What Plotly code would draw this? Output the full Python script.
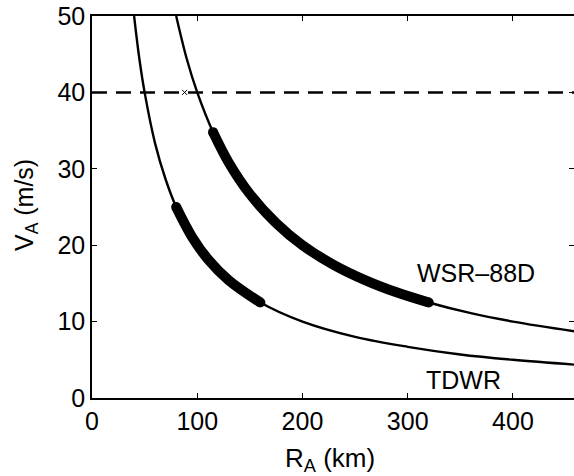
import plotly.graph_objects as go

# Values
wsr_r = [80, 90, 100, 115, 130, 150, 175, 200, 230, 260, 290, 320, 360, 400, 460]
wsr_v = [50, 44.4, 40, 34.8, 30.8, 26.7, 22.9, 20, 17.4, 15.4, 13.8, 12.5, 11.1, 10, 8.7]
wsr_thick_r = [115, 130, 150, 175, 200, 230, 260, 290, 320]
wsr_thick_v = [34.8, 30.8, 26.7, 22.9, 20, 17.4, 15.4, 13.8, 12.5]

tdwr_r = [40, 45, 50, 60, 70, 80, 95, 110, 130, 160, 200, 250, 300, 350, 400, 460]
tdwr_v = [50, 44.4, 40, 33.3, 28.6, 25, 21.1, 18.2, 15.4, 12.5, 10, 8, 6.7, 5.7, 5, 4.35]
tdwr_thick_r = [80, 95, 110, 130, 160]
tdwr_thick_v = [25, 21.1, 18.2, 15.4, 12.5]

va_limit = 40
marker_r = [88]
marker_v = [40]

x_ticks = [0, 100, 200, 300, 400]
y_ticks = [0, 10, 20, 30, 40, 50]

FONT = "Liberation Sans, Arial, Helvetica, sans-serif"

fig = go.Figure()
fig.add_trace(go.Scatter(x=[0, 460], y=[va_limit, va_limit], mode="lines",
                         line=dict(color="black", width=2.5, dash="15px,9px"), showlegend=False))
fig.add_trace(go.Scatter(x=wsr_r, y=wsr_v, mode="lines", line=dict(color="black", width=2.4, shape="spline"),
                         showlegend=False))
fig.add_trace(go.Scatter(x=tdwr_r, y=tdwr_v, mode="lines", line=dict(color="black", width=2.4, shape="spline"),
                         showlegend=False))
fig.add_trace(go.Scatter(x=wsr_thick_r, y=wsr_thick_v, mode="lines", line=dict(color="black", width=10, shape="spline"),
                         showlegend=False))
fig.add_trace(go.Scatter(x=tdwr_thick_r, y=tdwr_thick_v, mode="lines", line=dict(color="black", width=10, shape="spline"),
                         showlegend=False))
# round end caps
fig.add_trace(go.Scatter(x=[wsr_thick_r[0], wsr_thick_r[-1], tdwr_thick_r[0], tdwr_thick_r[-1]],
                         y=[wsr_thick_v[0], wsr_thick_v[-1], tdwr_thick_v[0], tdwr_thick_v[-1]],
                         mode="markers", marker=dict(color="black", size=10), showlegend=False))
fig.add_trace(go.Scatter(x=marker_r, y=marker_v, mode="markers",
                         marker=dict(symbol="x-thin", size=5, line=dict(color="black", width=1)), showlegend=False))

fig.add_annotation(x=307, y=16.3, text="WSR\u201388D", showarrow=False, xanchor="left", yanchor="middle",
                   font=dict(size=25, color="black", family=FONT))
fig.add_annotation(x=315, y=2.4, text="TDWR", showarrow=False, xanchor="left", yanchor="middle",
                   font=dict(size=25, color="black", family=FONT))

# axis titles
fig.add_annotation(xref="paper", yref="paper", x=0.494, y=-0.162, text="R<sub>A</sub> (km)",
                   showarrow=False, xanchor="center", yanchor="middle",
                   font=dict(size=26, color="black", family=FONT))
fig.add_annotation(xref="paper", yref="paper", x=-0.137, y=0.505, text="V<sub>A</sub> (m/s)",
                   showarrow=False, xanchor="center", yanchor="middle", textangle=-90,
                   font=dict(size=25, color="black", family=FONT))

axis_common = dict(showline=True, linecolor="black", linewidth=1.5, mirror="ticks", ticks="inside",
                   ticklen=5, tickcolor="black", showgrid=False, zeroline=False, automargin=False,
                   tickfont=dict(size=25, color="black", family=FONT))
fig.update_xaxes(range=[0, 458], tickvals=x_ticks, **axis_common)
fig.update_yaxes(range=[0, 50], tickvals=y_ticks, **axis_common)

fig.update_layout(width=574, height=476, margin=dict(l=92, r=0, t=16, b=78),
                  plot_bgcolor="white", paper_bgcolor="white")
fig.write_html("out.html", config={"displayModeBar": False},
               post_script="document.body.style.margin='0';")
